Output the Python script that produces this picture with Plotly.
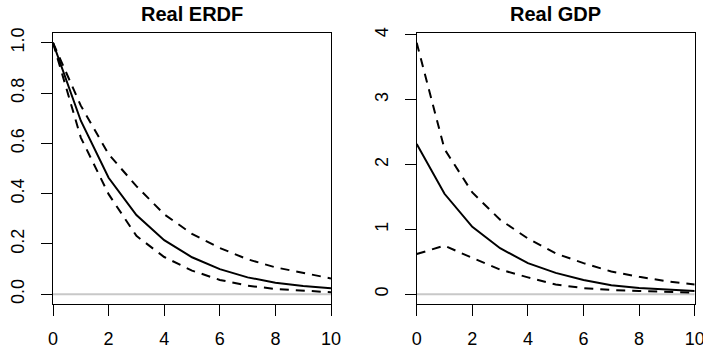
import plotly.graph_objects as go

# Impulse-response horizons
horizon = [0, 1, 2, 3, 4, 5, 6, 7, 8, 9, 10]

# Real ERDF response: point estimate and error bands
erdf_mid = [1.0, 0.69, 0.463, 0.315, 0.215, 0.147, 0.100, 0.067, 0.046, 0.033, 0.024]
erdf_hi = [1.0, 0.75, 0.557, 0.43, 0.318, 0.24, 0.184, 0.139, 0.107, 0.085, 0.063]
erdf_lo = [1.0, 0.623, 0.398, 0.232, 0.148, 0.094, 0.057, 0.034, 0.021, 0.013, 0.008]

# Real GDP response: point estimate and error bands
gdp_mid = [2.32, 1.55, 1.04, 0.71, 0.48, 0.33, 0.22, 0.14, 0.095, 0.068, 0.05]
gdp_hi = [3.88, 2.24, 1.57, 1.15, 0.86, 0.63, 0.48, 0.35, 0.27, 0.20, 0.15]
gdp_lo = [0.62, 0.75, 0.56, 0.38, 0.26, 0.15, 0.095, 0.066, 0.05, 0.04, 0.025]

titles = ["Real ERDF", "Real GDP"]
x_ticks = [0, 2, 4, 6, 8, 10]
erdf_ticks = [0.0, 0.2, 0.4, 0.6, 0.8, 1.0]
gdp_ticks = [0, 1, 2, 3, 4]

W, H = 703, 349
FONT = "Liberation Sans, Arial, sans-serif"

fig = go.Figure()

panels = [
    ("x", "y", erdf_mid, erdf_hi, erdf_lo),
    ("x2", "y2", gdp_mid, gdp_hi, gdp_lo),
]
for xa, ya, mid, hi, lo in panels:
    for series, dash in ((mid, "solid"), (hi, "9px,7px"), (lo, "9px,7px")):
        fig.add_trace(go.Scatter(
            x=horizon, y=series, mode="lines", xaxis=xa, yaxis=ya,
            line=dict(color="black", width=2, dash=dash),
            showlegend=False, hoverinfo="skip",
        ))
    # zero reference line
    fig.add_shape(type="line", xref=xa, yref=ya, x0=0, x1=10, y0=0, y1=0,
                  line=dict(color="#c8c8c8", width=2), layer="below")


def yrange(lo_list, hi_list):
    top = max(max(hi_list), 0)
    bot = min(min(lo_list), 0)
    bot = 0 if bot >= 0 else bot
    pad = 0.04 * (top - bot)
    return [bot - pad, top + pad]


common_axis = dict(
    showline=True, mirror=True, linecolor="black", linewidth=1,
    ticks="outside", ticklen=11, tickwidth=1, tickcolor="black",
    showgrid=False, zeroline=False, automargin=False,
    tickfont=dict(family=FONT, size=18, color="black"),
)
x_axis_extra = dict(ticklabelstandoff=7, ticklabeloverflow="allow")
y_axis_extra = dict(ticklabelstandoff=10, tickangle=-90)

x1_dom = [53 / W, 331 / W]
x2_dom = [416.7 / W, 694.7 / W]
y_dom = [(H - 304.3) / H, (H - 32.7) / H]

fig.update_layout(
    width=W, height=H,
    margin=dict(l=0, r=0, t=0, b=0),
    paper_bgcolor="white", plot_bgcolor="white",
    xaxis=dict(domain=x1_dom, range=[0, 10], tickvals=x_ticks, anchor="y",
               **x_axis_extra, **common_axis),
    yaxis=dict(domain=y_dom, range=[-0.04, 1.04], tickvals=erdf_ticks,
               ticktext=[f"{v:.1f}" for v in erdf_ticks],
               anchor="x", **y_axis_extra, **common_axis),
    xaxis2=dict(domain=x2_dom, range=[0, 10], tickvals=x_ticks, anchor="y2",
                **x_axis_extra, **common_axis),
    yaxis2=dict(domain=y_dom, range=yrange(gdp_lo, gdp_hi), tickvals=gdp_ticks,
                ticktext=[str(v) for v in gdp_ticks],
                anchor="x2", **y_axis_extra, **common_axis),
    annotations=[
        dict(text=f"<b>{titles[0]}</b>", x=sum(x1_dom) / 2, y=(H - 14) / H,
             xref="paper", yref="paper", showarrow=False,
             font=dict(family=FONT, size=20, color="black"),
             xanchor="center", yanchor="middle"),
        dict(text=f"<b>{titles[1]}</b>", x=sum(x2_dom) / 2, y=(H - 14) / H,
             xref="paper", yref="paper", showarrow=False,
             font=dict(family=FONT, size=20, color="black"),
             xanchor="center", yanchor="middle"),
    ],
)

fig.write_html("out.html")
